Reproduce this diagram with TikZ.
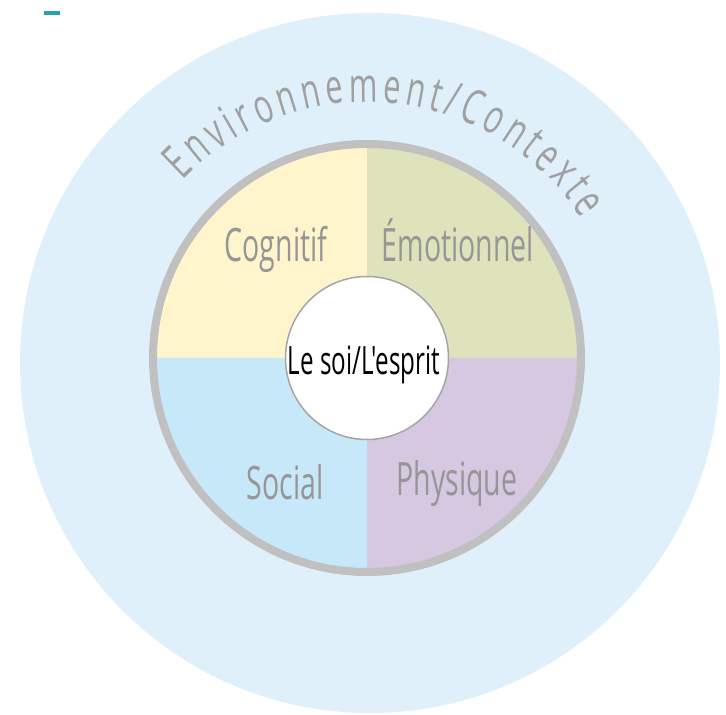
\documentclass[tikz,border=0pt]{standalone}
\usepackage{fontspec}
\usepackage{tikz}
\usetikzlibrary{positioning,decorations.text}
\setmainfont{Open Sans}
\newfontfamily\labelfont[FakeStretch=0.62]{Open Sans}
\newfontfamily\arcfont[FakeStretch=0.64]{Open Sans}
\definecolor{envblue}{RGB}{223,240,251}
\definecolor{cogyellow}{RGB}{255,245,204}
\definecolor{emogreen}{RGB}{222,227,188}
\definecolor{socblue}{RGB}{199,232,249}
\definecolor{physpurple}{RGB}{214,200,225}
\definecolor{ringgray}{RGB}{192,192,192}
\definecolor{centregray}{RGB}{165,165,165}
\definecolor{labelgray}{RGB}{150,150,150}
\definecolor{arcgray}{RGB}{160,160,160}
\definecolor{tealmark}{RGB}{40,160,180}

\begin{document}
\begin{tikzpicture}[x=1pt, y=1pt,
    dimtext/.style={font=\labelfont\fontsize{46}{50}\selectfont, text=labelgray, inner sep=0pt, anchor=base}]
\useasboundingbox (0,0) rectangle (726,715);
\coordinate (c) at (367,357);

% Environment
\fill[envblue] (370,352) circle[radius=350];
\fill[tealmark] (44,700) rectangle (60,704);

% Quadrants
\fill[cogyellow] (c) -- ++(180:214) arc[start angle=180, end angle=90, radius=214] -- cycle;
\fill[emogreen] (c) -- ++(90:214) arc[start angle=90, end angle=0, radius=214] -- cycle;
\fill[physpurple] (c) -- ++(0:214) arc[start angle=0, end angle=-90, radius=214] -- cycle;
\fill[socblue] (c) -- ++(-90:214) arc[start angle=-90, end angle=-180, radius=214] -- cycle;
\draw[ringgray, line width=8pt] (c) circle[radius=214];

% Nodes
\node[circle, draw=centregray, line width=1.5pt, fill=white, minimum size=163pt, inner sep=0pt] (self) at (c) {};
\node[font=\labelfont\fontsize{39}{42}\selectfont, inner sep=0pt, anchor=base] (selftext) at (364,340) {Le soi/L'esprit};
\node[dimtext] (cog) at (276,453) {Cognitif};
\node[dimtext] (emo) at (458,453) {Émotionnel};
\node[dimtext] (soc) at (285,215) {Social};
\node[dimtext] (phys) at (457,219) {Physique};

% Curved title
\path[decorate, decoration={text along path, text color=arcgray, text align={fit to path},
    text={|\arcfont\fontsize{48}{52}\selectfont|Environnement/Contexte}}]
    (c) ++(136:256) arc[start angle=136, end angle=33, radius=256];
\end{tikzpicture}
\end{document}
